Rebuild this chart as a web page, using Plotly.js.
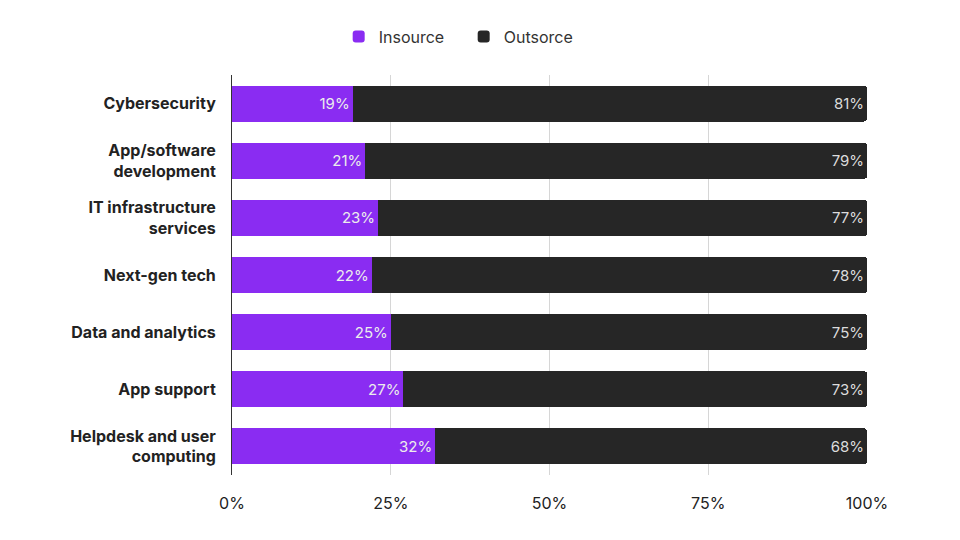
<!DOCTYPE html>
<html>
<head>
<meta charset="utf-8">
<script src="https://cdn.plot.ly/plotly-3.0.1.min.js"></script>
<style>
  body { margin: 0; background: #fff; }
  #chart { width: 960px; height: 540px; }
</style>
</head>
<body>
<div id="chart"></div>
<script>
// categories, top to bottom
var categories = [
  'Cybersecurity',
  'App/software<br>development',
  'IT infrastructure<br>services',
  'Next-gen tech',
  'Data and analytics',
  'App support',
  'Helpdesk and user<br>computing'
];
var insource = [19, 21, 23, 22, 25, 27, 32];
var outsorce = [81, 79, 77, 78, 75, 73, 68];

var trace1 = {
  y: categories,
  x: insource,
  name: 'Insource',
  type: 'bar',
  orientation: 'h',
  marker: { color: '#8a2cf2' },
  text: insource.map(v => v + '%'),
  textposition: 'inside',
  insidetextanchor: 'end',
  textfont: { color: '#ececec', size: 15, family: 'Inter, Roboto, sans-serif' },
  hoverinfo: 'none'
};

var trace2 = {
  y: categories,
  x: outsorce,
  name: 'Outsorce',
  type: 'bar',
  orientation: 'h',
  marker: { color: '#262626' },
  text: outsorce.map(v => v + '%'),
  textposition: 'inside',
  insidetextanchor: 'end',
  textfont: { color: '#dcdcdc', size: 15, family: 'Inter, Roboto, sans-serif' },
  hoverinfo: 'none'
};

var layout = {
  width: 960,
  height: 540,
  barmode: 'stack',
  bargap: 0.37,
  barcornerradius: 3,
  margin: { l: 232, r: 93, t: 75, b: 65, autoexpand: false },
  font: { family: 'Inter, Roboto, sans-serif', color: '#222' },
  showlegend: true,
  legend: {
    orientation: 'h',
    xref: 'container', yref: 'container',
    x: 0.483, xanchor: 'center',
    y: 0.932, yanchor: 'middle',
    font: { size: 16, color: '#333' },
    traceorder: 'normal',
    itemwidth: 30,
    entrywidth: 80
  },
  xaxis: {
    range: [0, 100],
    tickvals: [0, 25, 50, 75, 100],
    ticktext: ['0%', '25%', '50%', '75%', '100%'],
    showgrid: true,
    gridcolor: '#d6d6d6',
    zeroline: false,
    automargin: false,
    tickfont: { size: 16, color: '#222' },
    ticks: '',
    ticklabelstandoff: 17,
    fixedrange: true
  },
  yaxis: {
    autorange: 'reversed',
    showline: true,
    linecolor: '#333',
    linewidth: 1,
    ticks: '',
    automargin: false,
    ticklabelstandoff: 12,
    tickfont: { size: 16, color: '#222', family: 'Inter, Roboto, sans-serif', weight: 'bold' },
    fixedrange: true
  },
  plot_bgcolor: '#fff',
  paper_bgcolor: '#fff'
};

Plotly.newPlot('chart', [trace1, trace2], layout, { displayModeBar: false, staticPlot: true });
</script>
</body>
</html>
